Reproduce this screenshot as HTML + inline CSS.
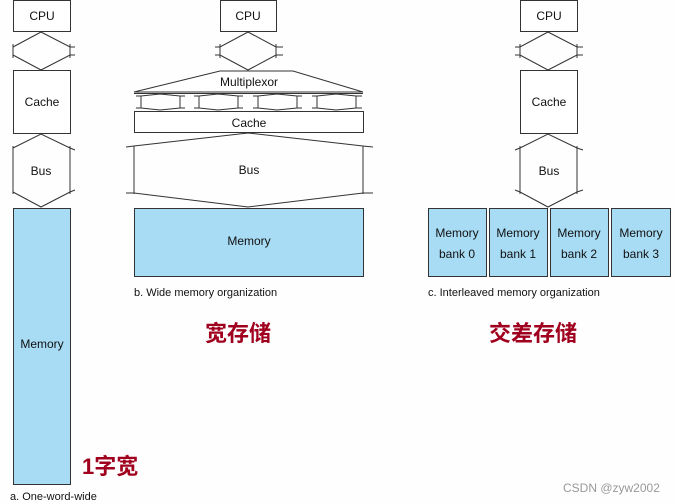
<!DOCTYPE html>
<html><head><meta charset="utf-8"><style>
html,body{margin:0;padding:0;background:#fdfefd;}
svg{display:block}
text{font-family:"Liberation Sans","Noto Sans CJK SC",sans-serif;}
</style></head><body>
<svg width="676" height="504" viewBox="0 0 676 504" xmlns="http://www.w3.org/2000/svg">
<g fill="none" stroke="#333" stroke-width="1">
<!-- column a -->
<rect x="13.5" y="0.5" width="57" height="31" fill="#fff"/>
<polyline points="13,47 41,32 70,47 75,47"/><polyline points="13,55 41,70 70,55 75,55"/>
<line x1="13" y1="44" x2="13" y2="58"/><line x1="70" y1="44" x2="70" y2="58"/>
<rect x="13.5" y="70.5" width="57" height="63" fill="#fff"/>
<polyline points="13,148 41,134 70,148 75,150"/><polyline points="13,192 41,207 70,192 75,190"/>
<line x1="13" y1="146" x2="13" y2="194"/><line x1="70" y1="146" x2="70" y2="194"/>
<rect x="13.5" y="208.5" width="57" height="276" fill="#a8dcf5"/>
<!-- column b -->
<rect x="220.5" y="0.5" width="56" height="31" fill="#fff"/>
<polyline points="215,47 220,47 248,32 276,47 283,47"/><polyline points="215,55 220,55 248,70 276,55 283,55"/>
<line x1="220" y1="44" x2="220" y2="58"/><line x1="276" y1="44" x2="276" y2="58"/>
<polygon points="220,71 293,71 363,92 134,92" fill="#fff"/>
<line x1="134" y1="93.5" x2="363" y2="93.5"/>
<g>
<polyline points="136,96 141,96 160,94 180,96 185,96"/><polyline points="136,108 141,108 160,110 180,108 185,108"/>
<line x1="141" y1="96" x2="141" y2="108"/><line x1="180" y1="96" x2="180" y2="108"/>
<polyline points="194,96 199,96 218,94 238,96 243,96"/><polyline points="194,108 199,108 218,110 238,108 243,108"/>
<line x1="199" y1="96" x2="199" y2="108"/><line x1="238" y1="96" x2="238" y2="108"/>
<polyline points="253,96 258,96 277,94 297,96 302,96"/><polyline points="253,108 258,108 277,110 297,108 302,108"/>
<line x1="258" y1="96" x2="258" y2="108"/><line x1="297" y1="96" x2="297" y2="108"/>
<polyline points="312,96 317,96 336,94 356,96 362,96"/><polyline points="312,108 317,108 336,110 356,108 362,108"/>
<line x1="317" y1="96" x2="317" y2="108"/><line x1="356" y1="96" x2="356" y2="108"/>
</g>
<rect x="134.5" y="111.5" width="229" height="21" fill="#fff"/>
<polyline points="126,147 134,146 248,133 363,146 373,147"/><polyline points="126,193 134,193 248,207 363,193 373,193"/>
<line x1="134" y1="146" x2="134" y2="194"/><line x1="363" y1="146" x2="363" y2="194"/>
<rect x="134.5" y="208.5" width="229" height="68" fill="#a8dcf5"/>
<!-- column c -->
<rect x="520.5" y="0.5" width="57" height="31" fill="#fff"/>
<polyline points="515,47 520,47 548,32 577,47 583,47"/><polyline points="515,55 520,55 548,70 577,55 583,55"/>
<line x1="520" y1="44" x2="520" y2="58"/><line x1="577" y1="44" x2="577" y2="58"/>
<rect x="520.5" y="70.5" width="57" height="63" fill="#fff"/>
<polyline points="515,150 520,148 548,134 577,148 583,150"/><polyline points="515,190 520,192 548,207 577,192 583,190"/>
<line x1="520" y1="146" x2="520" y2="194"/><line x1="577" y1="146" x2="577" y2="194"/>
<rect x="428.5" y="208.5" width="58" height="68" fill="#a8dcf5"/>
<rect x="489.5" y="208.5" width="58" height="68" fill="#a8dcf5"/>
<rect x="550.5" y="208.5" width="58" height="68" fill="#a8dcf5"/>
<rect x="611.5" y="208.5" width="59" height="68" fill="#a8dcf5"/>
</g>
<g font-size="12" fill="#111" text-anchor="middle">
<text x="42" y="20">CPU</text><text x="42" y="106">Cache</text><text x="41" y="175">Bus</text><text x="42" y="348">Memory</text>
<text x="248" y="20">CPU</text><text x="249" y="86">Multiplexor</text><text x="249" y="127">Cache</text><text x="249" y="174">Bus</text><text x="249" y="245">Memory</text>
<text x="549" y="20">CPU</text><text x="549" y="106">Cache</text><text x="549" y="175">Bus</text>
<text x="457" y="237">Memory</text><text x="457" y="258">bank 0</text>
<text x="518" y="237">Memory</text><text x="518" y="258">bank 1</text>
<text x="579" y="237">Memory</text><text x="579" y="258">bank 2</text>
<text x="641" y="237">Memory</text><text x="641" y="258">bank 3</text>
</g>
<g font-size="11" fill="#111">
<text x="10" y="500">a. One-word-wide</text>
<text x="134" y="296">b. Wide memory organization</text>
<text x="428" y="296">c. Interleaved memory organization</text>
</g>
<g font-size="22" font-weight="bold" fill="#a0001e">
<text x="82" y="474">1字宽</text>
<text x="205" y="341">宽存储</text>
<text x="489" y="341">交差存储</text>
</g>
<text x="563" y="492" font-size="12" fill="#999">CSDN @zyw2002</text>
</svg>
</body></html>
